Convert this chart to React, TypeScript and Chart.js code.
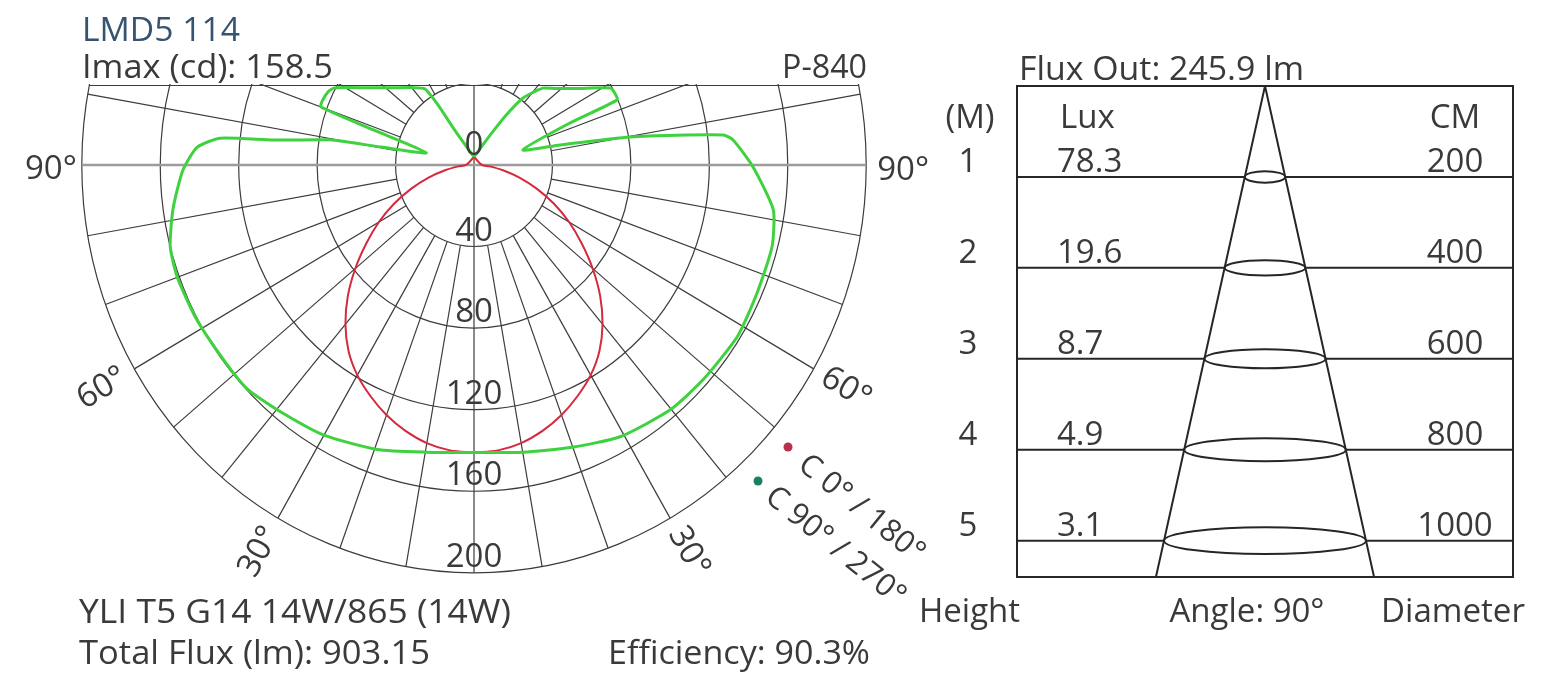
import React, { useEffect, useRef } from "react";
import { Chart, registerables } from "chart.js";
Chart.register(...registerables);

const FONT = '"Open Sans", "Noto Sans", sans-serif';
const TEXT = "#3a3a3a";
const FS = 33;
const D = Math.PI / 180;

// ---------- polar diagram data ----------
const ringValues = [40, 80, 120, 160, 200];
const ringLabels = ["0", "40", "80", "120", "160", "200"];
const spokeAngles = [10, 20, 30, 40, 50, 60, 70, 80, 100, 110, 120, 130, 140, 150, 160, 170];
const angleLabels = [30, 60];

// C0 / C180 plane (red), angle from nadir (deg) -> cd
const c0Angles = [0, 5, 10, 15, 20, 25, 30, 35, 40, 45, 50, 55, 60, 65, 70, 75, 80, 85, 90, 180];
const c0Values = [141, 140.5, 138.5, 135, 130.5, 125, 119, 111.5, 102, 91, 79, 67, 56, 45, 34, 24, 15, 8, 4, 4];

// C270 plane (green, left half)
const c270Angles = [0, 10, 19.5, 30, 40, 46.5, 53, 62, 70, 75.5, 82, 89, 93.5, 95.8, 96.8, 99.5, 100.5, 103.8, 108.5, 110, 112, 116, 118, 125, 132, 140, 146, 148, 150, 160, 180];
const c270Values = [141, 143, 148, 153, 156.5, 159.5, 159.5, 160.5, 161, 160, 155, 148.5, 141.5, 130, 103, 74.5, 48, 25, 54, 83, 83.5, 82.5, 80.5, 66, 56.5, 49.5, 45, 35, 20, 8, 4];

// C90 plane (green, right half)
const c90Angles = [0, 10, 19.5, 29.2, 39.8, 48, 58, 66.5, 75.2, 81.8, 89.6, 95.3, 96.6, 99.8, 102.6, 106.5, 112.8, 113.6, 116, 118.5, 125, 132, 137, 142.7, 146, 150, 160, 180];
const c90Values = [141, 143, 147, 152.7, 156.3, 157.3, 158.5, 157.4, 157.2, 154.2, 142.3, 132.7, 127.9, 80.8, 45, 26, 53, 79.7, 80, 79, 65.4, 56, 51.5, 41.3, 30, 18, 8, 4];

const legendLabels = ["C 0° / 180°", "C 90° / 270°"];
const legendColors = ["#b8304e", "#1b7f63"];
const RED = "#d42a3c";
const GREEN = "#3fd23f";

// ---------- beam diagram data ----------
const heightsM = [1, 2, 3, 4, 5];
const luxValues = [78.3, 19.6, 8.7, 4.9, 3.1];
const diametersCm = [200, 400, 600, 800, 1000];
const beamAngleDeg = 90;
const beamMaxHeight = 5.4;
const beamHalfWidthCm = 1228;

function drawText(ctx: CanvasRenderingContext2D, s: string, x: number, y: number, o: any = {}) {
  ctx.save();
  ctx.font = `${o.size || FS}px ${FONT}`;
  ctx.fillStyle = o.color || TEXT;
  ctx.textAlign = o.align || "left";
  ctx.textBaseline = o.baseline || "alphabetic";
  ctx.translate(x, y);
  if (o.rot) ctx.rotate(o.rot * D);
  if (o.w) {
    const m = ctx.measureText(s).width;
    ctx.scale(o.w / m, 1);
  }
  ctx.fillText(s, 0, 0);
  ctx.restore();
}

const toXY = (angles: number[], vals: number[], side: number) =>
  angles.map((a, i) => ({ x: side * vals[i] * Math.sin(a * D), y: -vals[i] * Math.cos(a * D) }));

const polarPlugin = {
  id: "polarGrid",
  beforeDatasetsDraw(chart: any) {
    const { ctx, chartArea, scales } = chart;
    const xs = scales.x, ys = scales.y;
    const cx = xs.getPixelForValue(0), cy = ys.getPixelForValue(0);
    const P = (gamma: number, r: number): [number, number] => [
      xs.getPixelForValue(r * Math.sin(gamma * D)),
      ys.getPixelForValue(-r * Math.cos(gamma * D)),
    ];
    const outer = ringValues[ringValues.length - 1];
    const inner = ringValues[0];
    ctx.save();
    ctx.beginPath();
    ctx.rect(0, chartArea.top - 1, chart.width, chart.height);
    ctx.clip();
    ctx.strokeStyle = "#3c3c3c";
    ctx.lineWidth = 1.2;
    for (const v of ringValues) {
      ctx.beginPath();
      ctx.ellipse(cx, cy, xs.getPixelForValue(v) - cx, ys.getPixelForValue(-v) - cy, 0, 0, 2 * Math.PI);
      ctx.stroke();
    }
    for (const a of spokeAngles) {
      for (const s of [-1, 1]) {
        const [x1, y1] = P(s * a, inner);
        const [x2, y2] = P(s * a, outer);
        ctx.beginPath();
        ctx.moveTo(x1, y1);
        ctx.lineTo(x2, y2);
        ctx.stroke();
      }
    }
    // vertical 0° line
    ctx.beginPath();
    ctx.moveTo(cx, ys.getPixelForValue(-outer));
    ctx.lineTo(cx, chartArea.top);
    ctx.stroke();
    // top chord
    const yTop = ys.max;
    const xc = Math.sqrt(outer * outer - yTop * yTop);
    ctx.beginPath();
    ctx.moveTo(xs.getPixelForValue(-xc), chartArea.top + 0.5);
    ctx.lineTo(xs.getPixelForValue(xc), chartArea.top + 0.5);
    ctx.stroke();
    // horizontal 90° line
    ctx.strokeStyle = "#9c9c9c";
    ctx.lineWidth = 2.5;
    ctx.beginPath();
    ctx.moveTo(xs.getPixelForValue(-outer), cy);
    ctx.lineTo(xs.getPixelForValue(outer), cy);
    ctx.stroke();
    ctx.restore();
  },
  afterDatasetsDraw(chart: any) {
    const { ctx, scales } = chart;
    const xs = scales.x, ys = scales.y;
    const cx = xs.getPixelForValue(0), cy = ys.getPixelForValue(0);
    const outer = ringValues[ringValues.length - 1];
    // ring labels
    drawText(ctx, ringLabels[0], cx, cy - 10, { align: "center" });
    ringValues.forEach((v, i) => {
      drawText(ctx, ringLabels[i + 1], cx, ys.getPixelForValue(-v) - 6, { align: "center" });
    });
    // 90° labels
    drawText(ctx, "90°", xs.getPixelForValue(-outer) - 5, cy + 14, { align: "right" });
    drawText(ctx, "90°", xs.getPixelForValue(outer) + 11, cy + 15, { align: "left" });
    // angle labels
    const sx = xs.getPixelForValue(1) - cx, sy = cy - ys.getPixelForValue(1);
    for (const a of angleLabels) {
      const r = outer * 1.095;
      for (const s of [-1, 1]) {
        const px = cx + s * r * Math.sin(a * D) * sx;
        const py = cy + r * Math.cos(a * D) * sy;
        const rot = Math.atan2(s * Math.cos(a * D) * sy, Math.sin(a * D) * sx) / D;
        drawText(ctx, `${a}°`, px, py, { align: "center", baseline: "middle", rot });
      }
    }
    // legend
    const dots = [[788, 447], [758, 481]];
    const starts = [[802, 461], [769, 493]];
    legendLabels.forEach((lab, i) => {
      ctx.save();
      ctx.fillStyle = legendColors[i];
      ctx.beginPath();
      ctx.arc(dots[i][0], dots[i][1], 4.5, 0, 2 * Math.PI);
      ctx.fill();
      ctx.restore();
      drawText(ctx, lab, starts[i][0], starts[i][1], { baseline: "middle", rot: 39, size: 31 });
    });
    // header / footer texts
    drawText(ctx, "LMD5 114", 82, 41, { color: "#36536f", w: 158 });
    drawText(ctx, "Imax (cd): 158.5", 82, 78, { w: 251 });
    drawText(ctx, "P-840", 867, 78, { align: "right", w: 85 });
    drawText(ctx, "YLI T5 G14 14W/865 (14W)", 79, 623, { w: 432 });
    drawText(ctx, "Total Flux (lm): 903.15", 79, 664, { w: 351 });
    drawText(ctx, "Efficiency: 90.3%", 608, 664, { w: 262 });
  },
};

const OFFX = 900;
const beamPlugin = {
  id: "beam",
  afterDatasetsDraw(chart: any) {
    const { ctx, chartArea, scales } = chart;
    const xs = scales.x, ys = scales.y;
    const cx = xs.getPixelForValue(0);
    ctx.save();
    ctx.strokeStyle = "#262626";
    ctx.lineWidth = 2;
    ctx.strokeRect(chartArea.left, chartArea.top, chartArea.right - chartArea.left, chartArea.bottom - chartArea.top);
    heightsM.forEach((h, i) => {
      const cy = ys.getPixelForValue(h);
      const rx = xs.getPixelForValue(diametersCm[i] / 2) - cx;
      const ry = 3.8 + 0.095 * rx;
      ctx.beginPath();
      ctx.ellipse(cx, cy, rx, ry, 0, 0, 2 * Math.PI);
      ctx.stroke();
    });
    ctx.restore();
    const X = (v: number) => v - OFFX;
    drawText(ctx, "Flux Out: 245.9 lm", X(1019), 80, { w: 285 });
    drawText(ctx, "(M)", X(970), 128, { align: "center" });
    drawText(ctx, "Lux", X(1060), 128);
    drawText(ctx, "CM", X(1455), 128, { align: "center" });
    heightsM.forEach((h, i) => {
      const y = ys.getPixelForValue(h) - 5;
      drawText(ctx, String(h), X(968), y, { align: "center" });
      drawText(ctx, luxValues[i].toFixed(1), X(1057), y);
      drawText(ctx, String(diametersCm[i]), X(1455), y, { align: "center" });
    });
    drawText(ctx, "Height", X(919), 622);
    drawText(ctx, `Angle: ${beamAngleDeg}°`, X(1247), 622, { align: "center" });
    drawText(ctx, "Diameter", X(1381), 622, { w: 144 });
  },
};

export default function App() {
  const leftRef = useRef<HTMLCanvasElement>(null);
  const rightRef = useRef<HTMLCanvasElement>(null);
  useEffect(() => {
    const redPath = [...toXY(c0Angles, c0Values, -1).reverse(), ...toXY(c0Angles, c0Values, 1)];
    const greenPath = [...toXY(c270Angles, c270Values, -1).reverse(), ...toXY(c90Angles, c90Values, 1)];
    const c1 = new Chart(leftRef.current!, {
      type: "scatter",
      data: {
        datasets: [
          { data: greenPath, showLine: true, borderColor: GREEN, borderWidth: 3, tension: 0.2, pointRadius: 0, clip: { left: 10, right: 10, top: 0, bottom: 10 } as any },
          { data: redPath, showLine: true, borderColor: RED, borderWidth: 2, tension: 0.3, pointRadius: 0, clip: { left: 10, right: 10, top: 0, bottom: 10 } as any },
        ],
      },
      options: {
        responsive: false,
        animation: false,
        devicePixelRatio: 1,
        layout: { padding: { left: 72, right: 64, top: 85, bottom: 96 } },
        scales: {
          x: { type: "linear", min: -205, max: 205, display: false },
          y: { type: "linear", min: -205, max: 39.2, display: false },
        },
        plugins: { legend: { display: false }, tooltip: { enabled: false } },
      },
      plugins: [polarPlugin],
    });

    const half = beamAngleDeg / 2;
    const coneR = beamMaxHeight * 100 * Math.tan(half * D);
    const levelSets: any[] = [];
    heightsM.forEach((h, i) => {
      const r = diametersCm[i] / 2;
      levelSets.push({ data: [{ x: -beamHalfWidthCm, y: h }, { x: -r, y: h }] });
      levelSets.push({ data: [{ x: r, y: h }, { x: beamHalfWidthCm, y: h }] });
    });
    const c2 = new Chart(rightRef.current!, {
      type: "scatter",
      data: {
        datasets: [
          ...levelSets.map((d) => ({ ...d, showLine: true, borderColor: "#262626", borderWidth: 2, pointRadius: 0 })),
          {
            data: [{ x: -coneR, y: beamMaxHeight }, { x: 0, y: 0 }, { x: coneR, y: beamMaxHeight }],
            showLine: true, borderColor: "#262626", borderWidth: 2, pointRadius: 0,
          },
        ],
      },
      options: {
        responsive: false,
        animation: false,
        devicePixelRatio: 1,
        layout: { padding: { left: 117, right: 45, top: 86, bottom: 102 } },
        scales: {
          x: { type: "linear", min: -beamHalfWidthCm, max: beamHalfWidthCm, display: false },
          y: { type: "linear", min: 0, max: beamMaxHeight, reverse: true, display: false },
        },
        plugins: { legend: { display: false }, tooltip: { enabled: false } },
      },
      plugins: [beamPlugin],
    });
    const fonts: any = (document as any).fonts;
    if (fonts && fonts.load) {
      fonts.load(`${FS}px "Open Sans"`).then(() => { c1.update(); c2.update(); }).catch(() => {});
    }
    return () => { c1.destroy(); c2.destroy(); };
  }, []);
  return (
    <div style={{ position: "absolute", left: 0, top: 0, width: 1558, height: 679, background: "#fff" }}>
      <canvas ref={leftRef} width={940} height={679} style={{ position: "absolute", left: 0, top: 0 }} />
      <canvas ref={rightRef} width={658} height={679} style={{ position: "absolute", left: 900, top: 0 }} />
    </div>
  );
}
